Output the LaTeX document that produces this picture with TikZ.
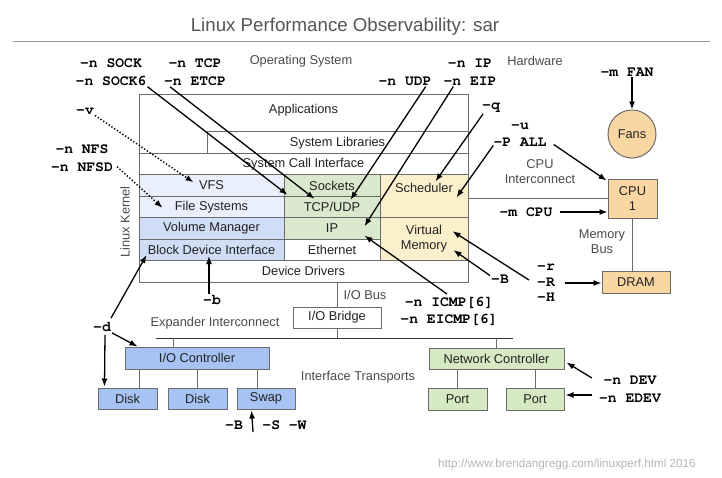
\documentclass[tikz,border=0pt]{standalone}
\usepackage{fontspec}
\setmainfont{Liberation Sans}
\setmonofont{TeX Gyre Cursor}
\usetikzlibrary{arrows.meta,calc}

\definecolor{boxgray}{HTML}{6B6B6B}
\definecolor{celltext}{HTML}{222222}
\definecolor{notegray}{HTML}{4A4A4A}
\definecolor{titlegray}{HTML}{555555}
\definecolor{rulegray}{HTML}{9A9A9A}
\definecolor{urlgray}{HTML}{B5B5B5}
\definecolor{vfsblue}{HTML}{E9EFFB}
\definecolor{vmblue}{HTML}{CFDDF7}
\definecolor{ioblue}{HTML}{A6C3F3}
\definecolor{netgreen}{HTML}{DAE8CD}
\definecolor{nicgreen}{HTML}{D5E9C3}
\definecolor{cpucream}{HTML}{FCF0CC}
\definecolor{hworange}{HTML}{F9D6A2}

\newcommand{\cellfont}{\fontsize{12.8}{15}\selectfont}
\newcommand{\optfont}{\fontsize{14.7}{18}\selectfont\ttfamily\bfseries}
\newcommand{\notefont}{\fontsize{12.8}{14.5}\selectfont}

\tikzset{
  box/.style={draw=boxgray, line width=1pt, inner sep=0pt, align=center,
    font=\cellfont, text=celltext},
  cell/.style={box, minimum height=21.43},
  opt/.style={font=\optfont, inner sep=1pt, align=center},
  note/.style={font=\notefont, text=notegray, align=center, inner sep=1pt},
  arr/.style={->, line width=1.3pt},
  link/.style={draw=boxgray, line width=1pt},
}

\begin{document}
\begin{tikzpicture}[x=1pt,y=-1pt,>={Latex[length=8pt,width=6pt]}]
\useasboundingbox (0,0) rectangle (722,477);
% The title
\node[font=\fontsize{18.7}{22}\selectfont, text=titlegray] (title) at (345,27)
  {Linux Performance Observability: sar};
\draw[rulegray, line width=0.8pt] (13,41) -- (710,41);
\node[note] (os) at (301,61) {Operating System};
\node[note] (hw) at (535,61) {Hardware};
% The kernel stack
\node[box, minimum width=329, minimum height=188] (kernel) at (303.5,188) {};
\node[font=\cellfont, text=celltext] (apps) at (303.5,110) {Applications};
\node[cell, minimum width=261] (syslib) at (337.5,142.71) {System Libraries};
\node[cell, minimum width=329] (syscall) at (303.5,164.14) {System Call Interface};
\node[cell, fill=vfsblue, minimum width=145] (vfs) at (211.5,185.57) {VFS};
\node[cell, fill=vfsblue, minimum width=145] (fs) at (211.5,207) {File Systems};
\node[cell, fill=vmblue, minimum width=145] (vm) at (211.5,228.43) {Volume Manager};
\node[cell, fill=vmblue, minimum width=145] (bdi) at (211.5,249.86) {Block Device Interface};
\node[cell, fill=netgreen, minimum width=96] (sockets) at (332,185.57) {Sockets};
\node[cell, fill=netgreen, minimum width=96] (tcpudp) at (332,207) {TCP/UDP};
\node[cell, fill=netgreen, minimum width=96] (ip) at (332,228.43) {IP};
\node[cell, minimum width=96] (eth) at (332,249.86) {Ethernet};
\node[box, fill=cpucream, minimum width=88, minimum height=42.86] (sched) at (424,196.29) {};
\node[font=\cellfont, text=celltext] (schedtxt) at ($(sched.north)+(0,14)$) {Scheduler};
\node[box, fill=cpucream, minimum width=88, minimum height=42.86] (vmem) at (424,239.14) {Virtual\\Memory};
\node[cell, minimum width=329] (dd) at (303.5,271.29) {Device Drivers};
\node[note, rotate=90] (lk) at (125,222) {Linux Kernel};
% The hardware side
\node[box, circle, fill=hworange, minimum size=48] (fans) at (632,134) {Fans};
\node[box, fill=hworange, minimum width=49, minimum height=39] (cpu) at (632.5,198.5) {CPU\\1};
\node[box, fill=hworange, minimum width=68, minimum height=22] (dram) at (636,282) {DRAM};
\node[note] (cpuic) at (540,171.5) {CPU\\Interconnect};
\node[note] (membus) at (602,241.5) {Memory\\Bus};
\draw[link] (cpu.west) -- (cpu.west -| kernel.east);
\draw[link] (cpu.south) -- (cpu.south |- dram.north);
% The I/O path
\node[box, minimum width=88, minimum height=21] (iobridge) at (337,317.5) {I/O Bridge};
\node[note] (iobus) at (365,295) {I/O Bus};
\draw[link] (iobridge.north) -- (iobridge.north |- kernel.south);
\coordinate (expL) at (156,338);
\coordinate (expR) at (513,338);
\draw[line width=1pt, black!80] (expL) -- (expR);
\draw[link] (iobridge.south) -- (iobridge.south |- expL);
\node[note] (expic) at (215,323) {Expander Interconnect};
\node[box, fill=ioblue, minimum width=144, minimum height=22] (ioctl) at (197,358) {I/O Controller};
\node[box, fill=ioblue, minimum width=59, minimum height=21] (disk1) at (127.5,398.5) {Disk};
\node[box, fill=ioblue, minimum width=59, minimum height=21] (disk2) at (197.5,398.5) {Disk};
\node[box, fill=ioblue, minimum width=58, minimum height=21] (swap) at (266,398.5) {Swap};
\draw[link] ([xshift=-24pt]ioctl.north) -- ([xshift=-24pt]ioctl.north |- expL);
\draw[link] ([xshift=-58pt]ioctl.south) -- ([xshift=-58pt]ioctl.south |- disk1.north);
\draw[link] (ioctl.south) -- (ioctl.south |- disk2.north);
\draw[link] ([xshift=60pt]ioctl.south) -- ([xshift=60pt]ioctl.south |- swap.north);
\node[note] (ift) at (358,377) {Interface Transports};
\node[box, fill=nicgreen, minimum width=135, minimum height=21] (nic) at (496.5,358.5) {Network Controller};
\node[box, fill=nicgreen, minimum width=59, minimum height=22] (port1) at (457.5,399) {Port};
\node[box, fill=nicgreen, minimum width=58, minimum height=22] (port2) at (535,399) {Port};
\draw[link] (nic.north) -- (nic.north |- expL);
\draw[link] (port1.north) -- (port1.north |- nic.south);
\draw[link] (port2.north) -- (port2.north |- nic.south);
% The sar options
\node[opt] (sock) at (111,72) {-n SOCK\\-n SOCK6};
\node[opt] (tcp) at (195,72) {-n TCP\\-n ETCP};
\node[opt] (udp) at (405,81) {-n UDP};
\node[opt] (ipl) at (470,72) {-n IP\\-n EIP};
\node[opt] (vl) at (85,111) {-v};
\node[opt] (nfs) at (82,158) {-n NFS\\-n NFSD};
\node[opt] (ql) at (491,108) {-q};
\node[opt] (pall) at (520,134.5) {-u\\[-1pt]-P ALL};
\node[opt] (fan) at (627,72) {-m FAN};
\node[opt] (mcpu) at (526,212) {-m CPU};
\node[opt] (rRH) at (546,283) {-r\\[-2.5pt]-R\\[-2.5pt]-H};
\node[opt] (bl) at (500,279) {-B};
\node[opt] (icmp) at (449,311.5) {-n ICMP[6]\\[-1pt]-n EICMP[6]};
\node[opt] (bsmall) at (212,300) {-b};
\node[opt] (dl) at (102,327) {-d};
\node[opt] (bsw) at (234,425) {-B};
\node[opt] (sw) at (284.5,425) {-S -W};
\node[opt] (dev) at (630,389) {-n DEV\\-n EDEV};
% The arrows
\draw[arr] (sock.south east) -- ($(sockets.south west)+(4,-2)$);
\draw[arr] ($(tcp.south west)+(7,0)$) -- ($(tcpudp.north west)+(31,3)$);
\draw[arr, dotted, line width=1.5pt] (vl.south east) -- ($(vfs.north west)+(55,8)$);
\draw[arr, dotted, line width=1.5pt] ($(nfs.south east)+(3,-6)$) -- ($(fs.north west)+(24,12)$);
\draw[arr] ($(udp.south east)+(-7,0)$) -- ($(tcpudp.north east)+(-30,4)$);
\draw[arr] ($(ipl.south west)+(11,0)$) -- ($(ip.north east)+(-16,9)$);
\draw[arr] ($(ql.south west)+(2,0)$) -- ($(sched.north west)+(56,7)$);
\draw[arr] ($(pall.south west)+(1,-2)$) -- ($(sched.north east)+(-12,23)$);
\draw[arr] ($(pall.south east)+(6,-3)$) -- ($(cpu.north west)+(-1,2)$);
\draw[arr] ($(mcpu.east)+(6,0)$) -- (mcpu -| cpu.west);
\draw[arr] ($(rRH.east)+(9,0)$) -- (rRH -| dram.west);
\draw[arr] ($(rRH.west)+(-7,-3)$) -- ($(vmem.north east)+(-16,14)$);
\draw[arr] ($(bl.north west)+(0,2)$) -- ($(vmem.south east)+(-15,-11)$);
\draw[arr] ($(icmp.north)+(-2,-2)$) -- ($(ip.south east)+(-16,-4)$);
\draw[arr] ($(bsmall.north)+(-3,0)$) -- ($(bdi.south)+(-2.5,-5)$);
\draw[arr] ($(dl.north east)+(-1,-3)$) -- ($(bdi.south west)+(8,-6)$);
\draw[arr] (dl.south east) -- ($(ioctl.north west)+(13,0)$);
\draw[arr] ($(dl.south)+(3,2)$) -- ($(disk1.north west)+(7,-1)$);
\draw[arr] (fan.south -| fans.north) -- (fans.north);
\draw[arr] ($(bsw.east)+(9,7)$) -- ($(swap.south west)+(15,1)$);
\draw[arr] ($(dev.west)+(-6,-11)$) -- ($(nic.south east)+(2,-7)$);
\draw[arr] ($(dev.west)+(-6,6)$) -- ($(port2.east)+(1,-4)$);
% The footer
\node[font=\fontsize{11.7}{14}\selectfont, text=urlgray] (url) at (567,464)
  {http://www.brendangregg.com/linuxperf.html 2016};
\end{tikzpicture}
\end{document}
